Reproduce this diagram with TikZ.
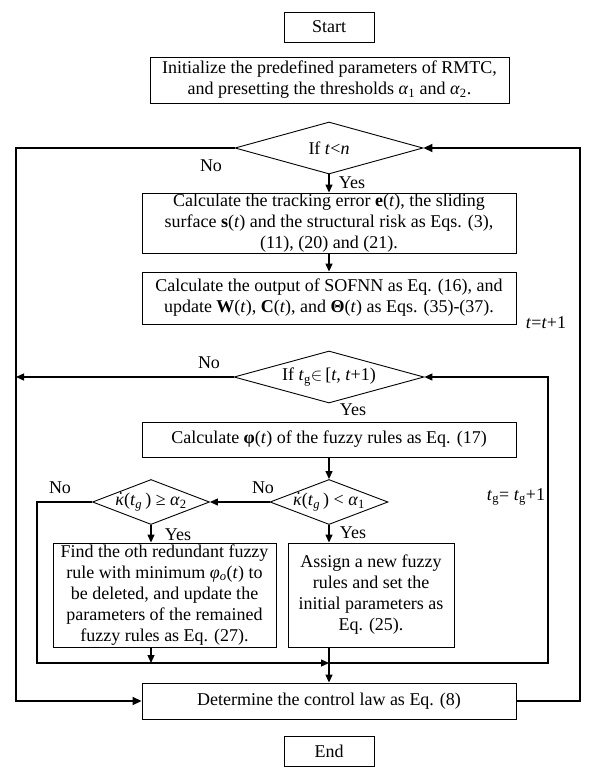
\documentclass[tikz,border=0pt]{standalone}
\usepackage{fontspec}
\setmainfont{Liberation Serif}
\usetikzlibrary{arrows.meta,shapes.geometric}
\newcommand\kapdot{\ooalign{\textit{κ}\cr\hidewidth\kern0.12em\raisebox{0.05em}{˙}\hidewidth\cr}}
\begin{document}
\begin{tikzpicture}[x=1pt,y=-1pt,
  box/.style={draw, line width=0.9pt, inner sep=0pt, align=center, font=\fontsize{18}{21}\selectfont},
  dia/.style={draw, diamond, line width=0.9pt, inner sep=0pt},
  lbl/.style={inner sep=0pt, font=\fontsize{18}{21}\selectfont},
  conn/.style={line width=1.3pt, -{Triangle[length=8pt,width=7pt]}},
  plain/.style={line width=1.3pt},
  outer/.style={line width=1.8pt, -{Triangle[length=9pt,width=8pt]}}]
\useasboundingbox (0,0) rectangle (598,780);
% boxes
\node[box, minimum width=90pt, minimum height=30pt] (start) at (329,27) {Start};
\node[box, minimum width=359pt, minimum height=46pt] (init) at (329.5,80)
  {Initialize the predefined parameters of RMTC,\\ and presetting the thresholds \textit{α}\textsubscript{1} and \textit{α}\textsubscript{2}.};
\node[box, minimum width=374pt, minimum height=60pt] (calc1) at (329,223)
  {Calculate the tracking error \textbf{e}(\textit{t}), the sliding\\ surface \textbf{s}(\textit{t}) and the structural risk as Eqs. (3),\\ (11), (20) and (21).};
\node[box, minimum width=374pt, minimum height=52pt] (calc2) at (329,298)
  {Calculate the output of SOFNN as Eq. (16), and\\ update \textbf{W}(\textit{t}), \textbf{C}(\textit{t}), and \textbf{Θ}(\textit{t}) as Eqs. (35)-(37).};
\node[box, minimum width=374pt, minimum height=35pt] (phi) at (329,439.5)
  {Calculate \textbf{φ}(\textit{t}) of the fuzzy rules as Eq. (17)};
\node[box, minimum width=223pt, minimum height=104pt] (find) at (164.5,595)
  {Find the \textit{o}th redundant fuzzy\\ rule with minimum \textit{φ\textsubscript{o}}(\textit{t}) to\\ be deleted, and update the\\ parameters of the remained\\ fuzzy rules as Eq. (27).};
\node[box, minimum width=166pt, minimum height=104pt] (assign) at (371,595)
  {Assign a new fuzzy\\ rules and set the\\ initial parameters as\\ Eq. (25).};
\node[box, minimum width=374pt, minimum height=36pt] (ctrl) at (329,701)
  {Determine the control law as Eq. (8)};
\node[box, minimum width=90pt, minimum height=30pt] (end) at (329,751) {End};
% diamonds
\node[dia, minimum width=188pt, minimum height=52pt] (d1) at (329,148) {};
\node[lbl] (d1t) at (d1) {If \textit{t}<\textit{n}};
\node[dia, minimum width=190pt, minimum height=52pt] (d2) at (329,377) {};
\node[lbl] (d2t) at (d2) {If \textit{t}\textsubscript{g}$\in$\,[\textit{t}, \textit{t}+1)};
\node[dia, minimum width=117pt, minimum height=45pt] (d3) at (151,502) {};
\node[lbl] (d3t) at (d3) {\kapdot(\textit{t}\textsubscript{\textit{g}}\,) ≥ \textit{α}\textsubscript{2}};
\node[dia, minimum width=118pt, minimum height=45pt] (d4) at (329,502) {};
\node[lbl] (d4t) at (d4) {\kapdot(\textit{t}\textsubscript{\textit{g}}\,) < \textit{α}\textsubscript{1}};
% helper coordinates
\coordinate (oL) at (16,0);
\coordinate (oR) at (580,0);
\coordinate (iL) at (37,663);
\coordinate (iM) at (329,663);
\coordinate (iR) at (548,663);
% connectors
\draw[conn] (d1.south) -- (calc1.north);
\draw[conn] (calc1.south) -- (calc2.north);
\draw[conn] (phi.south) -- (d4.north);
\draw[conn] (d4.west) -- (d3.east);
\draw[conn] (d3.south) -- (d3.south |- find.north);
\draw[conn] (d4.south) -- (d4.south |- assign.north);
\draw[conn] (find.south -| d3.south) -- (iL -| d3.south);
\draw[plain] (assign.south -| d4.south) -- (iM);
\draw[conn] (iM) -- (ctrl.north);
\draw[conn] (d2.west) -- (d2.west -| oL);
\draw[conn] (d3.west) -| (iL) -- (iM);
\draw[conn] (iM) -- (iR) |- (d2.east);
\draw[outer] (d1.west) -- (d1.west -| oL) -- (ctrl.west -| oL) -- (ctrl.west);
\draw[outer] (ctrl.east) -- (ctrl.east -| oR) -- (d1.east -| oR) -- (d1.east);
% labels
\node[lbl] (l1) at (211,166) {No};
\node[lbl] (l2) at (352,183) {Yes};
\node[lbl] (l3) at (546,323) {\textit{t}=\textit{t}+1};
\node[lbl] (l4) at (209,363) {No};
\node[lbl] (l5) at (353,410) {Yes};
\node[lbl] (l6) at (60,488) {No};
\node[lbl] (l7) at (263,488) {No};
\node[lbl] (l8) at (178,535) {Yes};
\node[lbl] (l9) at (353,533) {Yes};
\node[lbl] (l10) at (516,497) {\textit{t}\textsubscript{g}= \textit{t}\textsubscript{g}+1};
\end{tikzpicture}
\end{document}
